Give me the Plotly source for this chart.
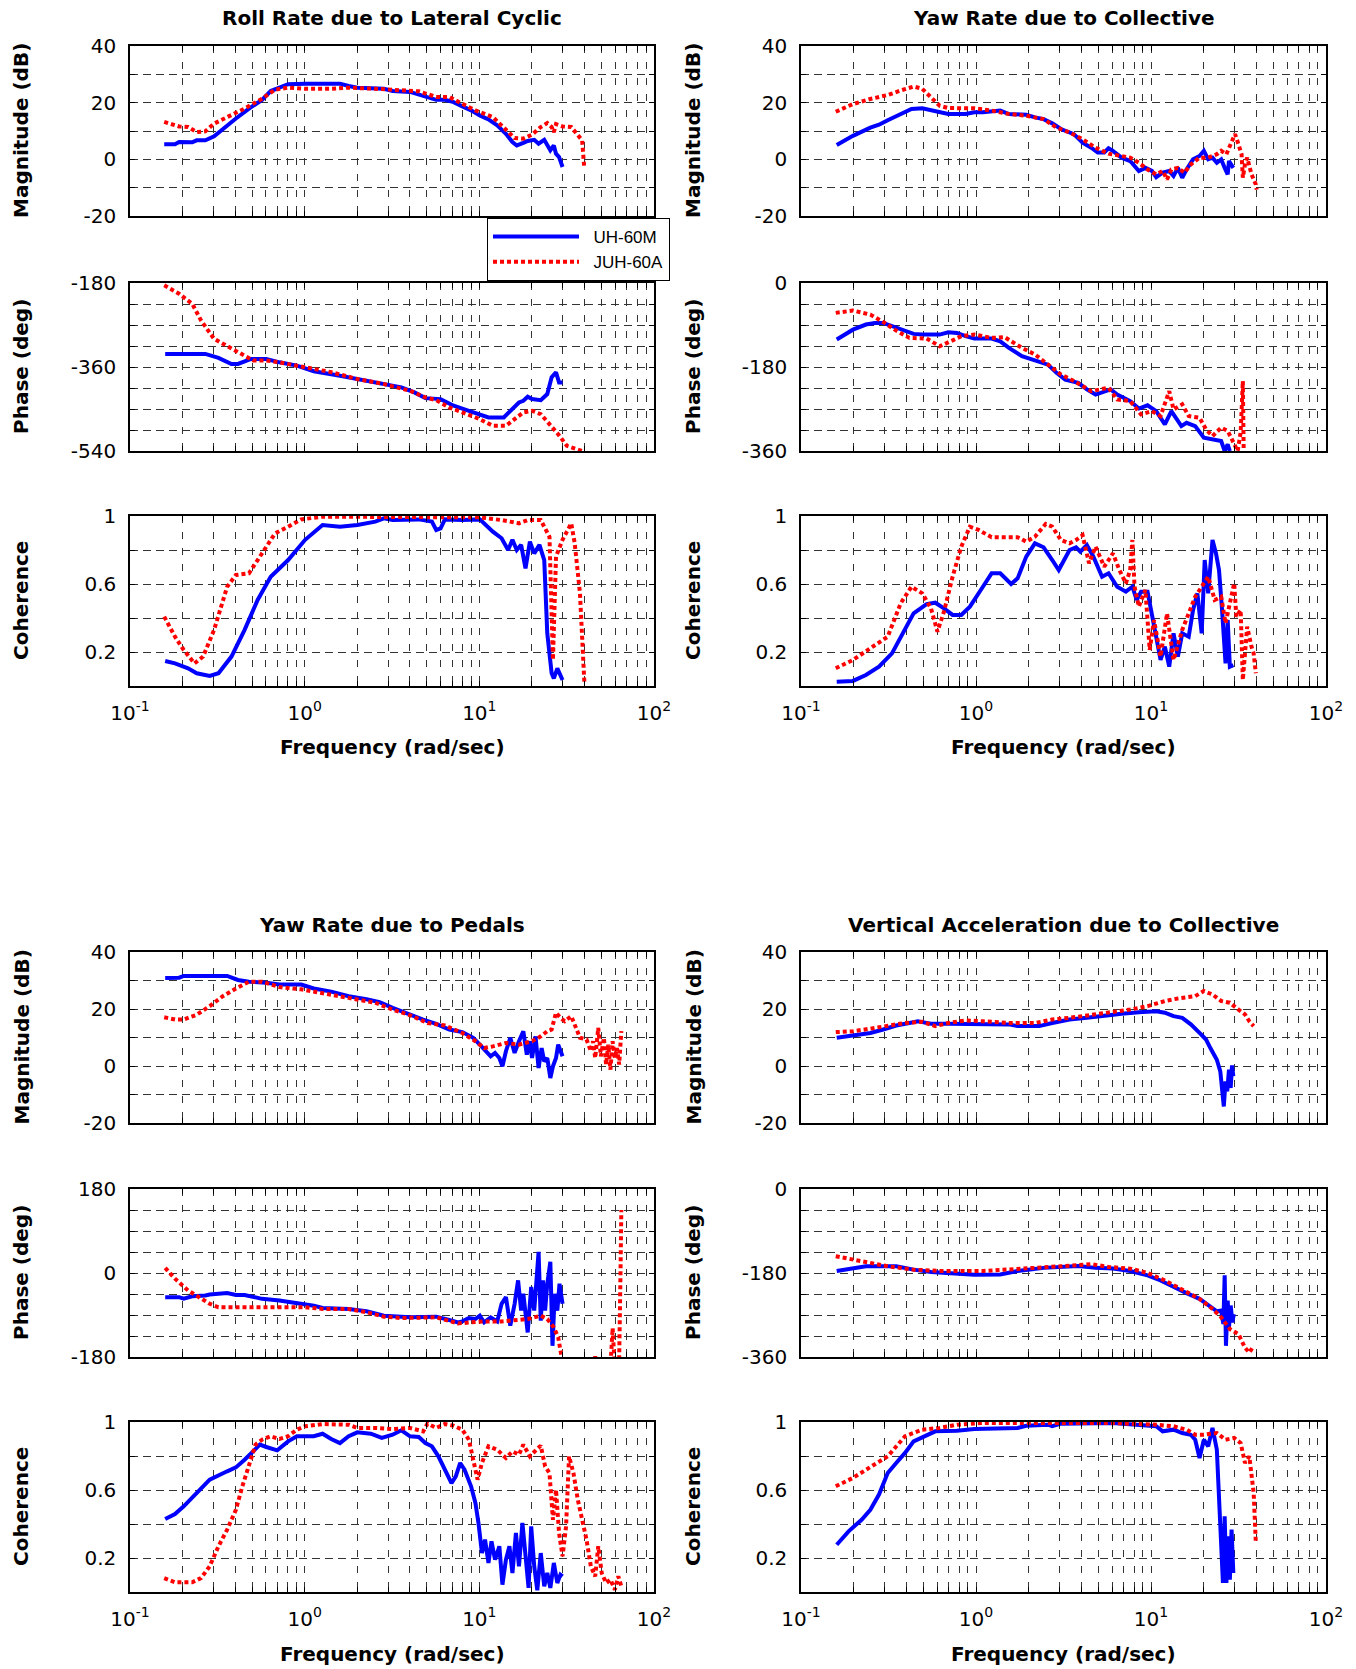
import plotly.graph_objects as go

# ------------------------------------------------------------------ data
SERIES_NAMES = ["UH-60M", "JUH-60A"]
PANEL_TITLES = ["Roll Rate due to Lateral Cyclic", "Yaw Rate due to Collective",
                "Yaw Rate due to Pedals", "Vertical Acceleration due to Collective"]
X_DECADE_LABELS = ["10<sup>-1</sup>", "10<sup>0</sup>", "10<sup>1</sup>", "10<sup>2</sup>"]
Y_LABEL_MAG = "Magnitude (dB)"
Y_LABEL_PHASE = "Phase (deg)"
Y_LABEL_COH = "Coherence"
X_LABEL = "Frequency (rad/sec)"

# --- Roll rate due to lateral cyclic
ROLL_MAG_UH_F = [0.157,0.181,0.191,0.227,0.241,0.270,0.303,0.340,0.404,0.480,0.570,0.639,0.717,0.804,1.006,1.592,1.786,2.003,2.844,3.189,4.013,4.502,5.050,5.665,6.353,7.127,7.993,8.965,10.06,11.28,12.66,14.20,15.47,16.38,17.86,18.92,20.62,21.84,23.53,24.49,25.50,26.70,27.48,28.61,29.95]
ROLL_MAG_UH = [5.3,5.3,6.1,6.0,6.7,6.7,8.1,10.8,14.4,17.9,21.0,24.1,25.3,26.5,26.7,26.7,25.9,25.3,24.9,24.1,23.8,22.8,22.0,21.0,21.0,20.2,18.7,17.3,15.5,14.1,12.0,9.0,6.1,4.9,5.8,6.5,6.9,5.5,6.9,4.9,3.2,4.9,2.0,0.8,-2.7]
ROLL_MAG_JUH_F = [0.157,0.191,0.215,0.241,0.270,0.303,0.360,0.453,0.570,0.677,0.804,1.006,1.419,1.786,2.535,3.189,4.502,5.665,6.729,7.993,9.497,11.95,14.20,15.92,17.86,20.03,22.47,24.49,25.94,26.70,27.48,29.95,33.59,36.62,38.79,39.91]
ROLL_MAG_JUH = [13.2,11.6,11.4,9.6,9.9,12.6,14.9,17.9,21.4,24.6,25.3,24.9,24.9,25.3,24.9,24.6,24.0,22.0,22.0,19.6,17.3,14.9,10.2,7.5,7.3,8.7,11.4,12.8,11.4,9.6,12.4,11.6,11.4,8.5,6.7,-3.3]
ROLL_PH_UH_F = [0.159,0.270,0.321,0.381,0.415,0.494,0.603,0.717,0.902,1.128,1.592,2.260,2.844,3.578,4.250,4.907,6.000,7.127,8.465,10.06,11.28,13.80,15.47,16.86,17.86,18.92,20.03,22.47,24.49,25.94,27.48,28.61,29.95]
ROLL_PH_UH = [-332,-332,-340.6,-353.5,-353.5,-342.8,-342.8,-350,-357,-369,-378.6,-389.4,-398,-403.7,-414.5,-426.7,-428.8,-443,-452.5,-461,-468,-468,-450,-436,-432.4,-423.8,-428.8,-431,-418,-382,-371.4,-393,-393]
ROLL_PH_JUH_F = [0.157,0.191,0.227,0.255,0.303,0.381,0.453,0.508,0.603,0.717,1.006,1.419,2.003,2.844,4.013,4.907,5.665,6.729,8.465,10.06,11.95,14.20,15.92,17.86,20.03,22.47,25.21,28.28,31.71,35.58,38.79]
ROLL_PH_JUH = [-185,-203,-224.5,-260,-299.7,-321,-335.6,-346,-346,-350,-360.7,-371,-385.8,-396.5,-411,-425.2,-431,-446.7,-461,-471.8,-486,-486,-471.8,-457.5,-454,-461,-482.5,-504,-529,-536,-540]
ROLL_COH_UH_F = [0.159,0.181,0.215,0.241,0.286,0.321,0.381,0.453,0.538,0.639,0.804,1.006,1.266,1.592,2.003,2.535,2.844,3.189,4.502,5.349,5.665,6.000,6.353,7.993,10.06,11.95,13.41,14.61,15.47,16.38,17.35,18.38,19.47,20.62,22.09,23.53,24.49,25.94,26.70,27.96,29.95]
ROLL_COH_UH = [0.147,0.133,0.104,0.075,0.059,0.075,0.173,0.33,0.506,0.643,0.741,0.86,0.947,0.937,0.947,0.967,0.986,0.976,0.98,0.967,0.918,0.927,0.98,0.976,0.98,0.908,0.869,0.80,0.86,0.80,0.83,0.692,0.849,0.78,0.83,0.741,0.31,0.075,0.045,0.104,0.035]
ROLL_COH_JUH_F = [0.157,0.181,0.203,0.234,0.262,0.303,0.360,0.404,0.480,0.570,0.677,0.804,0.955,1.266,3.189,5.665,10.06,13.41,16.86,18.92,22.47,25.21,26.39,27.48,29.95,31.71,33.59,35.17,37.69,39.91]
ROLL_COH_JUH = [0.408,0.29,0.212,0.133,0.173,0.33,0.584,0.653,0.663,0.78,0.898,0.937,0.98,0.996,0.996,0.996,0.992,0.976,0.957,0.976,0.976,0.878,0.153,0.761,0.86,0.908,0.957,0.839,0.545,0.025]

# --- Yaw rate due to collective
YC_MAG_UH_F = [0.160,0.198,0.249,0.279,0.313,0.371,0.428,0.493,0.553,0.620,0.694,0.872,0.978,1.095,1.376,1.542,1.937,2.171,2.433,2.727,3.056,3.625,4.063,4.554,4.961,5.404,5.720,6.056,6.787,7.606,8.525,9.286,10.12,10.71,11.66,12.71,13.45,14.24,15.08,15.96,17.39,18.94,20.05,21.22,22.46,23.78,25.18,26.36,27.43,27.90,29.54]
YC_MAG_UH = [5.1,8.3,11.2,12.2,13.8,16.0,17.8,18.0,17.4,16.6,16.0,16.0,16.6,16.6,17.2,16.0,15.7,14.8,14.2,12.7,10.7,8.9,5.9,4.1,2.4,2.4,3.9,3.0,0.6,-0.6,-4.1,-3.0,-4.1,-6.3,-4.7,-4.1,-5.9,-3.0,-6.5,-3.6,0.0,1.2,3.0,0.0,0.6,-1.2,0.0,-3.0,-5.3,-0.6,-3.0]
YC_MAG_JUH_F = [0.158,0.198,0.249,0.313,0.371,0.440,0.493,0.553,0.620,0.694,0.978,1.228,1.542,1.937,2.433,2.886,3.424,4.063,4.822,5.720,6.411,7.606,8.525,9.555,10.71,11.66,12.35,13.07,14.24,15.51,16.89,18.94,21.22,23.78,25.18,26.97,29.04,30.22,31.62,32.92,33.48,34.44,35.44,37.53,39.72,40.18]
YC_MAG_JUH = [16.8,19.5,21.3,22.7,24.3,25.7,24.9,21.9,18.9,18.1,18.0,17.2,16.0,15.4,14.2,11.2,9.5,7.1,4.1,2.0,1.4,0.6,-1.2,-3.6,-5.3,-4.1,-7.1,-3.6,-3.0,-4.7,-1.8,0.6,0.6,1.8,3.0,1.8,6.5,8.9,5.3,1.8,-6.5,-1.8,0.6,-5.3,-8.9,-10.7]
YC_PH_UH_F = [0.160,0.198,0.235,0.264,0.295,0.350,0.440,0.493,0.620,0.694,0.778,0.872,0.978,1.228,1.376,1.542,1.830,2.171,2.576,2.886,3.235,3.838,4.301,4.822,5.404,5.886,6.411,7.606,8.525,9.555,10.71,12.00,13.07,14.24,14.91,15.96,17.89,20.05,22.46,25.18,26.36,27.43,28.22]
YC_PH_UH = [-121,-100,-89,-85.6,-85.6,-96,-109,-110.5,-110.5,-105.5,-107,-114,-119,-119,-125,-139,-157,-166,-175,-192.5,-207,-214,-228,-239,-232,-228,-239,-253,-269,-262,-274.5,-303,-274.5,-296,-306.6,-299.5,-306.6,-331.5,-335,-338.7,-360,-345.8,-360]
YC_PH_JUH_F = [0.158,0.198,0.249,0.295,0.350,0.416,0.522,0.620,0.735,0.824,0.978,1.228,1.457,1.830,2.171,2.576,3.056,3.625,4.554,5.720,6.411,7.606,8.770,10.12,11.34,12.71,13.45,15.08,16.42,18.94,20.63,22.46,25.18,27.43,29.88,31.27,32.54,33.48,33.87]
YC_PH_JUH = [-64,-59,-67.7,-83.4,-102,-117.6,-119,-135.5,-123,-114,-110.5,-117.6,-116,-139,-153,-175,-196,-210,-231.7,-224.6,-249.5,-253,-281.6,-274.5,-285,-231.7,-271,-260,-285,-288.8,-313.7,-328,-310,-317,-345.8,-360,-320,-210,-365]
YC_COH_UH_F = [0.160,0.198,0.235,0.279,0.331,0.393,0.440,0.522,0.585,0.656,0.735,0.824,0.923,1.095,1.228,1.376,1.587,1.729,1.937,2.171,2.433,2.727,2.970,3.424,3.730,3.948,4.301,4.686,5.253,5.720,6.411,7.185,7.826,8.285,8.770,9.555,10.41,11.34,12.00,12.71,13.45,14.24,15.08,16.42,17.39,18.41,19.48,20.27,21.22,22.46,23.52,24.47,25.47,26.66,27.43,28.22,29.54]
YC_COH_UH = [0.025,0.03,0.065,0.114,0.192,0.33,0.427,0.482,0.49,0.457,0.418,0.418,0.467,0.584,0.663,0.663,0.6,0.633,0.761,0.839,0.816,0.741,0.682,0.8,0.816,0.79,0.829,0.761,0.643,0.663,0.584,0.555,0.584,0.506,0.555,0.555,0.349,0.153,0.231,0.114,0.31,0.173,0.31,0.29,0.447,0.545,0.31,0.741,0.545,0.859,0.78,0.682,0.447,0.133,0.388,0.114,0.123]
YC_COH_JUH_F = [0.158,0.198,0.249,0.313,0.371,0.428,0.493,0.553,0.602,0.656,0.735,0.824,0.923,1.035,1.228,1.729,1.937,2.171,2.503,2.727,3.056,3.424,3.730,4.063,4.426,4.822,5.404,6.056,6.597,7.185,7.606,7.826,8.052,8.525,9.286,9.830,10.41,11.34,12.35,13.45,15.08,16.42,17.89,19.48,21.22,23.12,25.18,26.66,28.22,29.88,30.74,32.54,33.48,35.44,37.53,38.61,39.72]
YC_COH_JUH = [0.104,0.153,0.222,0.29,0.486,0.584,0.545,0.457,0.32,0.437,0.643,0.82,0.937,0.918,0.875,0.875,0.849,0.878,0.953,0.937,0.859,0.839,0.859,0.888,0.722,0.82,0.702,0.78,0.682,0.604,0.682,0.859,0.584,0.467,0.565,0.212,0.388,0.173,0.427,0.153,0.33,0.427,0.525,0.584,0.643,0.506,0.525,0.369,0.486,0.604,0.408,0.447,0.035,0.349,0.231,0.192,0.075]

# --- Yaw rate due to pedals
YP_MAG_UH_F = [0.159,0.191,0.203,0.360,0.415,0.480,0.603,0.717,0.955,1.128,1.419,1.786,2.260,2.685,3.189,4.013,4.768,5.665,6.729,7.993,9.229,10.06,10.96,11.61,12.30,13.02,13.56,14.20,15.04,15.92,16.86,17.86,18.70,19.47,20.03,20.97,21.84,22.73,23.53,24.49,25.50,26.39,27.48,28.28,29.95]
YP_MAG_UH = [30.9,31.0,31.6,31.6,30.2,29.6,29.2,28.6,28.6,27.2,26.1,24.5,23.4,22.4,20.4,18.0,16.3,14.8,12.8,11.9,9.9,7.5,5.2,3.4,4.6,2.8,-0.1,5.2,9.9,4.6,8.7,12.2,4.0,8.7,2.8,10.4,-0.7,6.3,1.6,2.8,-4.2,-0.1,2.8,7.5,3.4]
YP_MAG_JUH_F = [0.157,0.181,0.203,0.241,0.286,0.340,0.404,0.480,0.570,0.717,0.955,1.266,1.786,2.535,3.189,4.013,5.050,6.353,7.993,9.497,10.65,11.95,14.20,16.86,20.03,22.47,24.49,25.94,27.48,29.11,30.83,33.59,35.58,37.69,41.08,43.50,44.77,46.07,47.96,49.64,51.67,53.17,54.73,56.32,57.97,59.66,61.40,63.18,65.01]
YP_MAG_JUH = [17.1,16.3,16.3,18.0,21.0,24.5,27.2,29.6,29.6,27.7,26.9,25.7,23.9,22.2,19.8,17.8,15.1,14.2,11.6,8.7,6.3,6.9,8.1,7.5,8.7,10.4,12.2,12.8,18.7,16.9,15.7,17.5,13.4,9.9,9.3,5.2,8.7,2.8,13.4,3.4,9.9,0.5,7.5,-1.3,8.7,2.8,6.3,0.5,12.2]
YP_PH_UH_F = [0.159,0.191,0.203,0.227,0.270,0.286,0.360,0.404,0.453,0.570,0.717,0.955,1.128,1.266,1.786,2.260,2.844,4.013,4.768,5.665,6.729,7.547,7.993,8.710,9.497,10.06,10.65,11.61,12.66,13.41,14.20,15.04,15.92,16.67,17.35,17.86,18.92,19.81,20.62,21.22,21.84,22.47,23.13,23.80,24.49,25.50,26.24,27.01,27.96,28.78,29.95]
YP_PH_UH = [-51.8,-51.8,-55,-50,-48,-46,-43,-47,-47,-55.4,-59,-64.8,-70,-75,-77,-82,-91.4,-95,-95,-93.6,-100.8,-105.8,-103.7,-96.5,-98.6,-91.4,-105.8,-95,-103.7,-66,-51.8,-113,-66,-15.8,-80.6,-44.6,-127.4,-30,-80.6,-1.4,45.4,-102,-15.8,-80.6,-23,23.8,-156,-44.6,-80.6,-23,-66]
YP_PH_JUH_F = [0.159,0.181,0.215,0.255,0.286,0.321,0.570,1.006,1.266,1.786,2.260,2.844,3.578,5.665,7.547,8.965,10.65,13.41,15.92,18.92,22.47,24.49,26.70,28.28,29.62,31.37,45.5,46.07,46.6,56.32,57.5,57.97,58.8,59.66,62.8,63.18,64.3,65.01]
YP_PH_JUH = [10.8,-12.2,-37.4,-55.4,-66,-73.4,-73.4,-73.4,-77,-77,-84.2,-93.6,-96.5,-95,-108,-105.8,-103.7,-103.7,-100.8,-98.6,-91.4,-98.6,-116.6,-138,-181,-210,-210,-178,-210,-200,-150,-118,-160,-200,-200,-185,0,135]
YP_COH_UH_F = [0.159,0.181,0.203,0.241,0.286,0.360,0.404,0.453,0.508,0.554,0.603,0.696,0.804,0.902,1.128,1.266,1.419,1.592,1.786,2.003,2.393,2.763,3.189,3.578,4.013,4.502,4.907,5.349,5.83,6.353,6.925,7.334,7.77,8.226,8.965,9.497,9.886,10.35,10.78,11.28,11.74,12.30,13.02,13.56,14.20,14.87,15.47,16.20,16.86,17.65,18.38,19.14,19.81,20.62,21.47,22.47,23.53,24.49,25.50,26.70,27.96,29.11,29.95]
YP_COH_UH = [0.429,0.459,0.504,0.582,0.661,0.71,0.733,0.778,0.827,0.867,0.853,0.833,0.886,0.916,0.916,0.931,0.9,0.876,0.916,0.939,0.931,0.906,0.925,0.951,0.916,0.912,0.876,0.857,0.798,0.72,0.641,0.68,0.759,0.72,0.622,0.524,0.406,0.229,0.308,0.171,0.298,0.19,0.269,0.043,0.19,0.269,0.112,0.347,0.151,0.406,0.19,0.024,0.386,0.151,0.01,0.229,0.033,0.112,0.024,0.171,0.053,0.102,0.092]
YP_COH_JUH_F = [0.157,0.181,0.227,0.255,0.286,0.321,0.360,0.404,0.440,0.480,0.523,0.570,0.639,0.717,0.804,0.902,1.006,1.266,1.786,2.003,2.535,3.189,4.013,4.768,5.050,5.665,6.353,7.127,7.993,8.710,9.229,9.773,10.35,11.28,12.66,14.20,15.47,16.86,17.86,19.47,21.22,22.47,23.80,25.21,26.39,27.48,28.61,29.95,31.37,32.63,34.57,36.62,38.79,41.08,43.50,46.07,47.96,50.20,53.17,56.32,59.66,62.47,65.01]
YP_COH_JUH = [0.082,0.057,0.057,0.082,0.151,0.269,0.367,0.484,0.622,0.739,0.867,0.896,0.916,0.9,0.916,0.955,0.975,0.988,0.984,0.965,0.965,0.959,0.965,0.945,0.99,0.965,0.988,0.978,0.955,0.896,0.778,0.661,0.759,0.857,0.837,0.788,0.827,0.808,0.867,0.798,0.837,0.861,0.739,0.7,0.425,0.602,0.347,0.21,0.386,0.798,0.7,0.543,0.425,0.308,0.151,0.092,0.269,0.112,0.053,0.073,0.014,0.092,0.033]

# --- Vertical acceleration due to collective
VA_MAG_UH_F = [0.160,0.198,0.249,0.295,0.350,0.416,0.466,0.493,0.553,0.694,0.978,1.542,1.729,2.298,2.727,3.424,4.301,5.404,6.787,8.525,10.71,12.00,13.45,15.08,16.89,18.94,20.63,21.84,23.78,24.89,25.47,26.06,26.66,27.27,27.90,28.54,29.04,29.54]
VA_MAG_UH = [9.9,10.7,11.6,12.8,14.2,15.1,15.7,15.4,14.8,14.8,14.8,14.6,14.0,14.0,15.1,16.3,16.9,17.7,18.3,18.9,19.2,18.7,17.5,16.9,14.6,11.6,9.3,6.3,2.2,-1.9,-7.7,-14.2,-5.4,-8.9,-1.3,-7.7,0.2,-3.6]
VA_MAG_JUH_F = [0.158,0.198,0.249,0.313,0.393,0.493,0.585,0.694,0.872,1.095,1.542,2.171,2.727,3.424,4.822,6.056,7.606,9.555,12.00,14.24,17.89,20.05,22.46,25.18,28.22,31.62,34.44,36.47,38.61]
VA_MAG_JUH = [11.9,12.2,13.1,14.0,15.1,15.5,14.0,15.1,16.0,15.7,15.1,15.1,16.3,16.9,18.1,19.2,19.8,21.0,22.8,23.7,24.5,26.3,25.1,22.8,22.2,19.8,18.1,15.7,14.0]
VA_PH_UH_F = [0.160,0.198,0.235,0.350,0.440,0.553,0.778,0.978,1.376,1.729,2.433,3.056,3.838,4.822,6.056,7.606,9.555,11.34,13.45,15.96,18.94,21.22,23.78,25.18,25.91,26.36,26.81,27.43,27.90,28.54,29.20,29.71]
VA_PH_UH = [-175.7,-170.6,-165.6,-165.6,-172.8,-177.8,-180,-183.6,-183,-175.7,-169,-167,-165,-169,-170.6,-175.7,-185,-196,-210,-223,-235.4,-249.8,-262,-260.6,-289,-185,-336,-239,-296.6,-249.8,-285.8,-268]
VA_PH_JUH_F = [0.158,0.198,0.249,0.313,0.440,0.620,1.095,1.542,2.171,3.056,4.554,5.720,7.606,9.555,12.00,15.08,18.94,22.46,25.18,28.22,31.62,34.44,36.47,38.61]
VA_PH_JUH = [-144,-151,-160,-165.6,-172.8,-175.7,-175.7,-172.8,-169,-165.6,-161,-167,-170.6,-180,-196,-216,-235.4,-257,-275,-300,-311,-340,-350.6,-336]
VA_COH_UH_F = [0.160,0.187,0.222,0.249,0.279,0.313,0.350,0.393,0.440,0.493,0.585,0.778,0.978,1.729,1.937,2.576,2.727,3.056,4.822,6.056,10.71,11.66,13.45,15.08,16.89,17.89,18.94,20.05,21.22,22.46,23.78,24.47,25.18,25.76,26.36,26.97,27.58,28.22,28.87,29.54]
VA_COH_UH = [0.278,0.357,0.425,0.484,0.573,0.7,0.759,0.818,0.886,0.912,0.945,0.949,0.959,0.965,0.978,0.984,0.975,0.99,0.99,0.994,0.975,0.945,0.955,0.935,0.925,0.896,0.788,0.896,0.857,0.965,0.837,0.543,0.288,0.053,0.445,0.053,0.327,0.073,0.367,0.112]
VA_COH_JUH_F = [0.158,0.198,0.249,0.313,0.393,0.493,0.620,0.778,1.095,1.937,6.056,10.71,13.45,15.96,17.89,20.05,23.78,26.66,29.88,32.54,34.44,36.47,37.53,38.61,39.72]
VA_COH_JUH = [0.622,0.671,0.735,0.798,0.916,0.955,0.965,0.984,0.994,0.994,0.994,0.984,0.975,0.955,0.925,0.925,0.935,0.896,0.906,0.876,0.759,0.798,0.7,0.582,0.288]

# y-axis ticks (grid every step, labels on some)
MAG_TICKS = [-20, -10, 0, 10, 20, 30, 40]
MAG_TICKTEXT = ["-20", "", "0", "", "20", "", "40"]
COH_TICKS = [0.2, 0.4, 0.6, 0.8, 1.0]
COH_TICKTEXT = ["0.2", "", "0.6", "", "1"]
ROLL_PH_TICKS = [-540, -495, -450, -405, -360, -315, -270, -225, -180]
ROLL_PH_TICKTEXT = ["-540", "", "", "", "-360", "", "", "", "-180"]
PH360_TICKS = [-360, -315, -270, -225, -180, -135, -90, -45, 0]
PH360_TICKTEXT = ["-360", "", "", "", "-180", "", "", "", "0"]
PH180_TICKS = [-180, -135, -90, -45, 0, 45, 90, 135, 180]
PH180_TICKTEXT = ["-180", "", "", "", "0", "", "", "", "180"]

# ------------------------------------------------------------------ layout geometry
W, H = 1356, 1669
COL_X = [(130, 654), (801, 1326)]
ROW_Y = [[(46, 216), (283, 451), (516, 686)],
         [(952, 1123), (1189, 1357), (1422, 1592)]]
TITLE_Y = [18, 925]
XLABEL_Y = [747, 1654]
YLABEL_X = [21, 693]

BLUE = "#0000ff"
RED = "#ff0000"
GRID = "#333333"
TICKFONT = dict(family="DejaVu Sans", size=20, color="black")
LABELFONT = dict(family="DejaVu Sans", size=20, color="black")
NBSP = "\u00a0"

panels = [
    dict(title=PANEL_TITLES[0],
         mag=(ROLL_MAG_UH_F, ROLL_MAG_UH, ROLL_MAG_JUH_F, ROLL_MAG_JUH),
         ph=(ROLL_PH_UH_F, ROLL_PH_UH, ROLL_PH_JUH_F, ROLL_PH_JUH),
         coh=(ROLL_COH_UH_F, ROLL_COH_UH, ROLL_COH_JUH_F, ROLL_COH_JUH),
         phticks=(ROLL_PH_TICKS, ROLL_PH_TICKTEXT)),
    dict(title=PANEL_TITLES[1],
         mag=(YC_MAG_UH_F, YC_MAG_UH, YC_MAG_JUH_F, YC_MAG_JUH),
         ph=(YC_PH_UH_F, YC_PH_UH, YC_PH_JUH_F, YC_PH_JUH),
         coh=(YC_COH_UH_F, YC_COH_UH, YC_COH_JUH_F, YC_COH_JUH),
         phticks=(PH360_TICKS, PH360_TICKTEXT)),
    dict(title=PANEL_TITLES[2],
         mag=(YP_MAG_UH_F, YP_MAG_UH, YP_MAG_JUH_F, YP_MAG_JUH),
         ph=(YP_PH_UH_F, YP_PH_UH, YP_PH_JUH_F, YP_PH_JUH),
         coh=(YP_COH_UH_F, YP_COH_UH, YP_COH_JUH_F, YP_COH_JUH),
         phticks=(PH180_TICKS, PH180_TICKTEXT)),
    dict(title=PANEL_TITLES[3],
         mag=(VA_MAG_UH_F, VA_MAG_UH, VA_MAG_JUH_F, VA_MAG_JUH),
         ph=(VA_PH_UH_F, VA_PH_UH, VA_PH_JUH_F, VA_PH_JUH),
         coh=(VA_COH_UH_F, VA_COH_UH, VA_COH_JUH_F, VA_COH_JUH),
         phticks=(PH360_TICKS, PH360_TICKTEXT)),
]

# x tick positions: every 1..9 x decade, labels at decades
x_tickvals, x_ticktext = [], []
for k, lab in zip(range(-1, 2), X_DECADE_LABELS[:3]):
    for m in range(1, 10):
        x_tickvals.append(m * 10.0 ** k)
        x_ticktext.append(lab if m == 1 else "")
x_tickvals.append(100.0)
x_ticktext.append(X_DECADE_LABELS[3])

fig = go.Figure()
layout = {}
annotations = []
n = 0
for pi, p in enumerate(panels):
    col, row = pi % 2, pi // 2
    x0, x1 = COL_X[col]
    subs = [("mag", [-20, 40], MAG_TICKS, MAG_TICKTEXT, Y_LABEL_MAG),
            ("ph", [p["phticks"][0][0], p["phticks"][0][-1]], p["phticks"][0], p["phticks"][1], Y_LABEL_PHASE),
            ("coh", [0, 1], COH_TICKS, COH_TICKTEXT, Y_LABEL_COH)]
    for si, (key, yr, ytv, ytt, ylab) in enumerate(subs):
        n += 1
        y0, y1 = ROW_Y[row][si]
        xa = "x" if n == 1 else f"x{n}"
        ya = "y" if n == 1 else f"y{n}"
        is_coh = key == "coh"
        layout[f"xaxis{n}"] = dict(
            type="log", range=[-1, 2], domain=[x0 / W, x1 / W], anchor=ya,
            tickmode="array", tickvals=x_tickvals, ticktext=x_ticktext,
            showticklabels=is_coh, tickfont=TICKFONT, ticklabelstandoff=8,
            ticks="inside", ticklen=5, tickcolor="black", tickwidth=1,
            showline=True, linecolor="black", linewidth=1.5, mirror="ticks",
            showgrid=True, gridcolor=GRID, gridwidth=1, griddash="7px,9px",
            zeroline=False, fixedrange=True, automargin=False)
        layout[f"yaxis{n}"] = dict(
            range=yr, domain=[1 - y1 / H, 1 - y0 / H], anchor=xa,
            tickmode="array", tickvals=ytv, ticktext=ytt,
            tickfont=TICKFONT, ticklabelstandoff=8,
            ticks="inside", ticklen=5, tickcolor="black", tickwidth=1,
            showline=True, linecolor="black", linewidth=1.5, mirror="ticks",
            showgrid=True, gridcolor=GRID, gridwidth=1, griddash="8px,5px",
            zeroline=False, fixedrange=True, automargin=False)
        fu, vu, fj, vj = p[key]
        fig.add_trace(go.Scatter(x=fu, y=vu, mode="lines", name=NBSP * 2 + SERIES_NAMES[0],
                                 line=dict(color=BLUE, width=4),
                                 xaxis=xa, yaxis=ya, showlegend=(n == 1)))
        fig.add_trace(go.Scatter(x=fj, y=vj, mode="lines", name=NBSP * 2 + SERIES_NAMES[1],
                                 line=dict(color=RED, width=4, dash="4px,3px"),
                                 xaxis=xa, yaxis=ya, showlegend=(n == 1)))
        annotations.append(dict(
            text=f"<b>{ylab}</b>", textangle=-90, font=LABELFONT,
            x=YLABEL_X[col] / W, y=1 - (y0 + y1) / 2 / H, xref="paper", yref="paper",
            xanchor="center", yanchor="middle", showarrow=False))
    annotations.append(dict(
        text=f"<b>{p['title']}</b>", font=LABELFONT,
        x=(x0 + x1) / 2 / W, y=1 - TITLE_Y[row] / H, xref="paper", yref="paper",
        xanchor="center", yanchor="middle", showarrow=False))
    annotations.append(dict(
        text=f"<b>{X_LABEL}</b>", font=LABELFONT,
        x=(x0 + x1) / 2 / W, y=1 - XLABEL_Y[row] / H, xref="paper", yref="paper",
        xanchor="center", yanchor="middle", showarrow=False))

fig.update_layout(
    **layout,
    annotations=annotations,
    template="none",
    width=W, height=H, autosize=False,
    margin=dict(l=0, r=0, t=0, b=0, pad=0, autoexpand=False),
    paper_bgcolor="white", plot_bgcolor="white",
    showlegend=True,
    legend=dict(x=487 / W, y=1 - 218 / H, xanchor="left", yanchor="top",
                bgcolor="white", bordercolor="black", borderwidth=1,
                font=dict(family="Liberation Sans", size=17, color="black"),
                itemwidth=86, tracegroupgap=0),
)

fig.write_html("out.html", include_plotlyjs=True, config={"displayModeBar": False})
